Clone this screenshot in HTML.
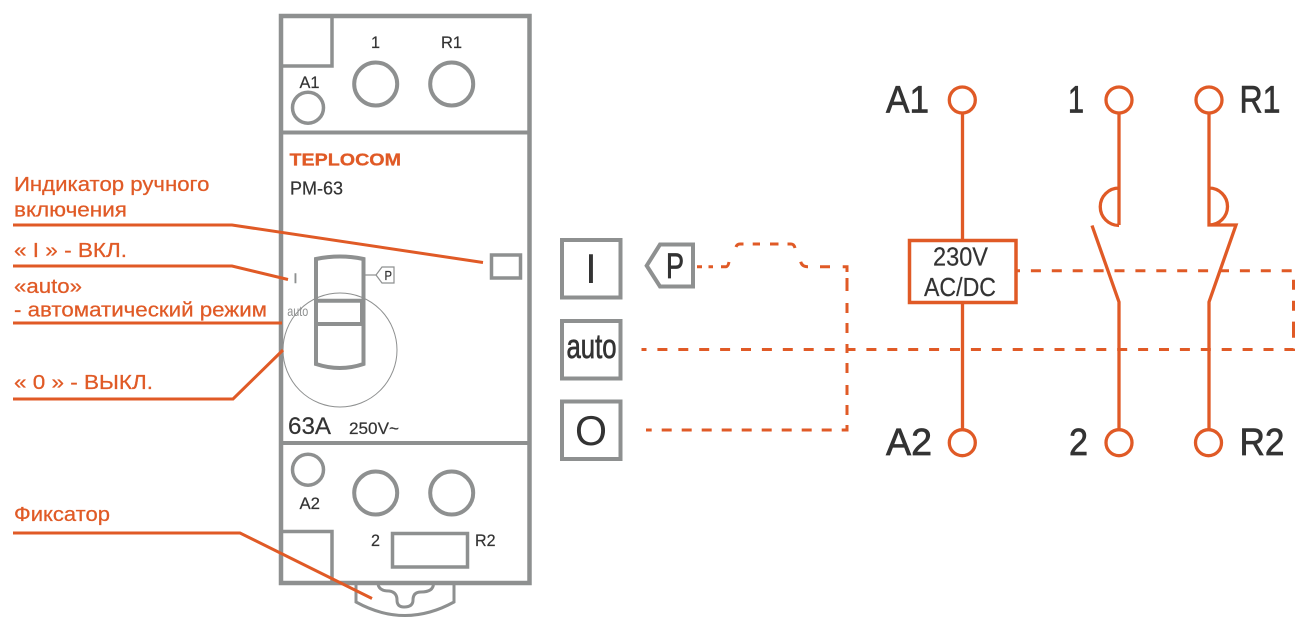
<!DOCTYPE html>
<html><head><meta charset="utf-8"><style>
html,body{margin:0;padding:0;background:#fff}
svg{display:block}
text{font-family:"Liberation Sans","DejaVu Sans",sans-serif}
.o{fill:#e05a26;font-size:20px;stroke:#e05a26;stroke-width:.25}
.d{fill:#333;font-size:17px;stroke:#333;stroke-width:.2}
.b{fill:#333;font-size:38px;stroke:#333;stroke-width:.7}
.g{fill:none;stroke:#8e9090;stroke-width:4}
.l{fill:none;stroke:#e05a26;stroke-width:3}
.w{fill:none;stroke:#e05a26;stroke-width:3.3}
.c{fill:#fff;stroke:#e05a26;stroke-width:3.3}
.dash{fill:none;stroke:#e05a26;stroke-width:3}
</style></head><body>
<svg width="1308" height="631" viewBox="0 0 1308 631" xmlns="http://www.w3.org/2000/svg">
<rect width="1308" height="631" fill="#fff"/>

<!-- clip -->
<path class="g" style="stroke-width:3" d="M356 583V602Q405 629 454 602V583"/>
<path class="g" style="stroke-width:3" d="M378 584Q379 591 389 591Q397 592 397 600Q397 607 404 607Q413 607 413 600Q413 592 421 592Q433 592 433.500 584"/>

<!-- housing -->
<rect class="g" x="281" y="16" width="248.500" height="567" style="stroke-width:4.500"/>
<path class="g" d="M281 132.500H530M281 443H530"/>
<path class="g" style="stroke-width:3.500" d="M332 16V66H281"/>
<path class="g" style="stroke-width:3.500" d="M281 531.500H332V583"/>
<circle class="g" cx="308" cy="107.700" r="15.500" style="stroke-width:3.500"/>
<circle class="g" cx="375.700" cy="84" r="21.500"/>
<circle class="g" cx="451.700" cy="84" r="21.500"/>
<circle class="g" cx="308" cy="469.700" r="15.500" style="stroke-width:3.500"/>
<circle class="g" cx="375.700" cy="493" r="21.500"/>
<circle class="g" cx="451.700" cy="493" r="21.500"/>
<rect class="g" x="392.500" y="533.500" width="75" height="33.500" style="stroke-width:3.500"/>
<rect class="g" x="491.500" y="255" width="29" height="23" style="stroke-width:3.500"/>

<!-- handle -->
<circle cx="340" cy="350" r="57" fill="none" stroke="#8e9090" stroke-width="1"/>
<path class="g" d="M316 364V259Q340 254 363.500 259V364Q340 372 316 364Z"/>
<path class="g" d="M316 300.700H363.500M316 324H363.500"/>
<path class="g" d="M362 301V324"/>
<path d="M363.500 275H376" stroke="#8e9090" stroke-width="1.200" fill="none"/>
<path d="M376 275L382 267H394V283H382Z" fill="#fff" stroke="#8e9090" stroke-width="1.200"/>
<text x="384.500" y="280" class="d" style="font-size:13px" textLength="7.500" lengthAdjust="spacingAndGlyphs">P</text>
<text x="287.300" y="316" style="font-size:14px;fill:#8e9090" textLength="21" lengthAdjust="spacingAndGlyphs">auto</text>
<text x="295.500" y="283" text-anchor="middle" style="font-size:14px;fill:#8e9090;stroke:#8e9090;stroke-width:.5">I</text>

<!-- device labels -->
<text x="371" y="48" class="d" textLength="9" lengthAdjust="spacingAndGlyphs">1</text>
<text x="441" y="48" class="d" textLength="21" lengthAdjust="spacingAndGlyphs">R1</text>
<text x="299.500" y="88" class="d" textLength="20" lengthAdjust="spacingAndGlyphs">A1</text>
<text x="289.500" y="165.500" style="font-size:17.500px;font-weight:bold;fill:#e05a26;stroke:#e05a26;stroke-width:.3" textLength="111.500" lengthAdjust="spacingAndGlyphs">TEPLOCOM</text>
<text x="290" y="194.500" class="d" style="font-size:18px" textLength="53" lengthAdjust="spacingAndGlyphs">PM-63</text>
<text x="288" y="434" class="d" style="font-size:24.500px" textLength="43" lengthAdjust="spacingAndGlyphs">63A</text>
<text x="349" y="434" class="d" textLength="50" lengthAdjust="spacingAndGlyphs">250V~</text>
<text x="299.500" y="509" class="d" textLength="20.500" lengthAdjust="spacingAndGlyphs">A2</text>
<text x="371" y="546" class="d" textLength="9" lengthAdjust="spacingAndGlyphs">2</text>
<text x="475" y="546" class="d" textLength="20.500" lengthAdjust="spacingAndGlyphs">R2</text>

<!-- left callouts -->
<path class="l" d="M13 225H232L483 262.500"/>
<path class="l" d="M13 266H232L288 279.500"/>
<path class="l" d="M13 323H282"/>
<path class="l" d="M13 399H233L283 350"/>
<path class="l" d="M13 533H240L372 598.500"/>
<text x="14" y="191" class="o" textLength="195.500" lengthAdjust="spacingAndGlyphs">Индикатор ручного</text>
<text x="14" y="216.500" class="o" textLength="113" lengthAdjust="spacingAndGlyphs">включения</text>
<text x="14" y="257" class="o" textLength="113" lengthAdjust="spacingAndGlyphs">« I » - ВКЛ.</text>
<text x="14" y="293" class="o" textLength="68" lengthAdjust="spacingAndGlyphs">«auto»</text>
<text x="14" y="316.500" class="o" textLength="253" lengthAdjust="spacingAndGlyphs">- автоматический режим</text>
<text x="14" y="389" class="o" textLength="139" lengthAdjust="spacingAndGlyphs">« 0 » - ВЫКЛ.</text>
<text x="14" y="521" class="o" textLength="96" lengthAdjust="spacingAndGlyphs">Фиксатор</text>

<!-- mode boxes -->
<rect class="g" x="562" y="240" width="58.500" height="57.500"/>
<rect class="g" x="562" y="321" width="58.500" height="57.500"/>
<rect class="g" x="562" y="401.500" width="58.500" height="57.500"/>
<text x="591" y="283" class="b" text-anchor="middle" style="font-size:42px;stroke-width:0">I</text>
<text x="566.500" y="358" class="b" style="font-size:34px" textLength="50" lengthAdjust="spacingAndGlyphs">auto</text>
<text x="575" y="445" class="b" style="font-size:42px;stroke-width:0" textLength="32" lengthAdjust="spacingAndGlyphs">O</text>
<path class="g" d="M646.700 265.700L660 244.500H693V286.500H660Z"/>
<text x="666" y="278" class="b" style="font-size:35px" textLength="18" lengthAdjust="spacingAndGlyphs">P</text>

<!-- dashed links -->
<path class="dash" d="M697 266.700H702M708.500 266.700H713M721 266.700H726Q728 266.700 729 262M736 247Q737 244 740 244H743.500M752.700 244H760M770 244H778.500M787.500 244H791Q794 244 795 248M800.700 261.700Q802 266.700 808 266.700M820 266.700H830M842.700 266.700H847V272M847 278V291M847 303V313M847 323V333M847 344V353M847 363V373M847 385V395M847 405V415M847 425V430H841.700M831.700 430H821.700M811.700 430H801.700M791.700 430H781.700M771.700 430H761.700M751.700 430H741.700M731.700 430H721.700M711.700 430H701.700M691.700 430H681.700M671.700 430H661.700M651.700 430H646"/>
<path class="dash" style="stroke-dasharray:10 10.900;stroke-dashoffset:5" d="M641.500 349.500H1293.500V330"/>
<path class="dash" style="stroke-dasharray:10 10.900;stroke-dashoffset:7" d="M1017 270.700H1293.500V330"/>

<!-- schematic -->
<path class="w" d="M962.500 113V240M962.500 302V430"/>
<rect x="909.500" y="240.500" width="106.500" height="62" fill="#fff" stroke="#e05a26" stroke-width="3.500"/>
<path class="w" d="M1119 113V225M1119 188A18.500 18.500 0 0 0 1119 225.500M1092 225.500L1119 302V430"/>
<path class="w" d="M1209 113V225H1236L1209 302V430M1209 188A18.500 18.500 0 0 1 1209 225"/>
<circle class="c" cx="962.300" cy="100" r="13"/>
<circle class="c" cx="1119" cy="100" r="13"/>
<circle class="c" cx="1209" cy="100" r="13"/>
<circle class="c" cx="962.300" cy="442.700" r="13"/>
<circle class="c" cx="1119" cy="442.700" r="13"/>
<circle class="c" cx="1208.500" cy="442.700" r="13"/>

<text x="933" y="265.500" class="d" style="font-size:26px" textLength="55" lengthAdjust="spacingAndGlyphs">230V</text>
<text x="924" y="296" class="d" style="font-size:26px" textLength="72" lengthAdjust="spacingAndGlyphs">AC/DC</text>
<text x="886" y="112.500" class="b" textLength="43" lengthAdjust="spacingAndGlyphs">A1</text>
<text x="1068" y="112.500" class="b" textLength="16" lengthAdjust="spacingAndGlyphs">1</text>
<text x="1239.500" y="112.500" class="b" textLength="41" lengthAdjust="spacingAndGlyphs">R1</text>
<text x="886" y="455" class="b" textLength="46" lengthAdjust="spacingAndGlyphs">A2</text>
<text x="1069" y="455" class="b" textLength="19" lengthAdjust="spacingAndGlyphs">2</text>
<text x="1239.500" y="455" class="b" textLength="45" lengthAdjust="spacingAndGlyphs">R2</text>
</svg>
</body></html>
